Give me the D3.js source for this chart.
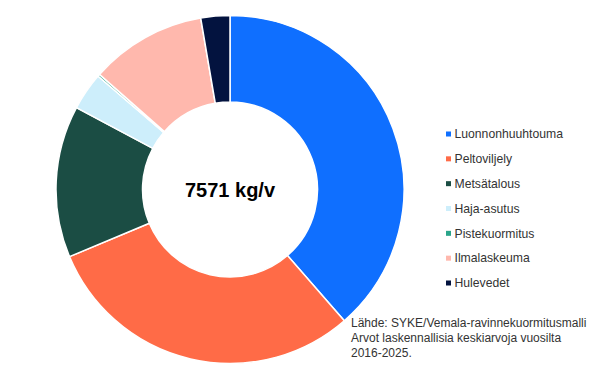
<!DOCTYPE html>
<html><head><meta charset="utf-8">
<script src="https://cdn.jsdelivr.net/npm/d3@7"></script>
<style>body{margin:0;background:#fff}svg{display:block}</style>
</head><body>
<svg id="c" width="600" height="379"></svg>
<script>
const categories = ["Luonnonhuuhtouma","Peltoviljely","Metsätalous","Haja-asutus","Pistekuormitus","Ilmalaskeuma","Hulevedet"];
const values = [2922, 2279, 1068, 265, 15, 818, 204];
const colors = ["#0f6fff","#ff6b47","#1b4d44","#cdeefb","#2aa58a","#ffb8ad","#03133f"];
const totalLabel = "7571 kg/v";
const sourceLines = ["Lähde: SYKE/Vemala-ravinnekuormitusmalli","Arvot laskennallisia keskiarvoja vuosilta","2016-2025."];

const svg = d3.select("#c");
const cx = 230, cy = 189.5, R = 174, r = 87.5;
const pie = d3.pie().sort(null).value(d => d.v);
const arc = d3.arc().innerRadius(r).outerRadius(R);
const data = categories.map((c,i)=>({c, v: values[i], col: colors[i]}));
const g = svg.append("g").attr("transform",`translate(${cx},${cy})`);
g.selectAll("path").data(pie(data)).join("path")
  .attr("d", arc).attr("fill", d=>d.data.col)
  .attr("stroke","#fff").attr("stroke-width",1.5);
g.append("text").attr("text-anchor","middle").attr("dy","0.35em")
  .attr("font-family","Liberation Sans, Arial, sans-serif").attr("font-weight","bold")
  .attr("font-size",20).attr("fill","#000").text(totalLabel);

const lg = svg.append("g").attr("font-family","Liberation Sans, Arial, sans-serif").attr("font-size",12.2);
const ly = d3.scalePoint().domain(categories).range([134, 283]);
const rows = lg.selectAll("g").data(data).join("g").attr("transform", d=>`translate(446,${ly(d.c)})`);
rows.append("rect").attr("x",0).attr("y",-2.5).attr("width",5).attr("height",5).attr("fill",d=>d.col);
rows.append("text").attr("x",8.5).attr("dy","0.35em").attr("fill","#333").text(d=>d.c);

svg.append("g").attr("font-family","Liberation Sans, Arial, sans-serif").attr("font-size",12).attr("fill","#333")
  .selectAll("text").data(sourceLines).join("text")
  .attr("x",351).attr("y",(d,i)=>327+i*15).text(d=>d);
</script>
</body></html>
